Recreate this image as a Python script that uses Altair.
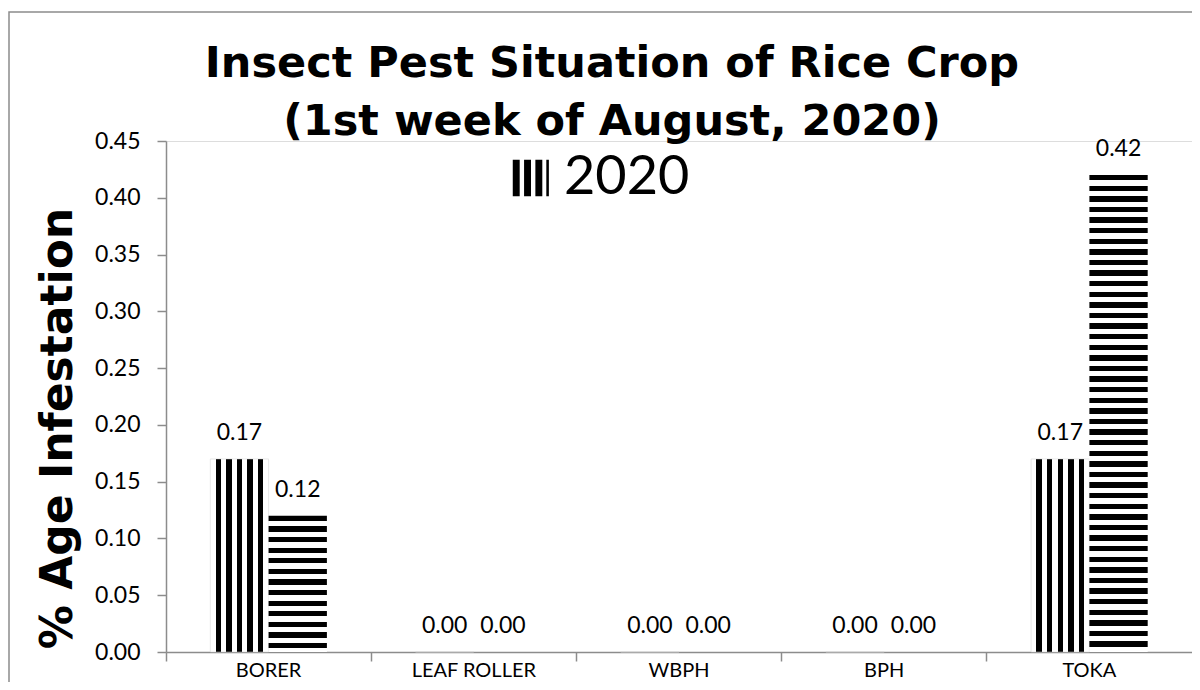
import altair as alt
import pandas as pd

categories = ["BORER", "LEAF ROLLER", "WBPH", "BPH", "TOKA"]
series = ["2020", "2019"]
values_2020 = [0.17, 0.00, 0.00, 0.00, 0.17]
values_2019 = [0.12, 0.00, 0.00, 0.00, 0.42]

rows = []
for c, v in zip(categories, values_2020):
    rows.append({"cat": c, "series": "2020", "value": v})
for c, v in zip(categories, values_2019):
    rows.append({"cat": c, "series": "2019", "value": v})
df = pd.DataFrame(rows)

# layout constants (style)
W, H = 1026, 511
YMAX = 0.45
OFF_PAD = 0.76
STRIPE = 10.6
bar_w = (W / len(categories)) / (2 + 2 * OFF_PAD)


def stripes(n_periods, vertical, start_black):
    stops = []
    n = max(n_periods, 1)
    k = 0
    pos = 0.0
    half = 1.0 / (2 * n)
    black = start_black
    while pos < 1.0:
        end = min(pos + half, 1.0)
        col = "#000000" if black else "#ffffff"
        stops.append({"offset": round(pos, 5), "color": col})
        stops.append({"offset": round(end, 5), "color": col})
        pos = end
        black = not black
        k += 1
        if k > 400:
            break
    g = {"gradient": "linear", "stops": stops}
    if vertical:
        g.update({"x1": 0, "y1": 0, "x2": 1, "y2": 0})
    else:
        g.update({"x1": 0, "y1": 0, "x2": 0, "y2": 1})
    return g


x_enc = alt.X("cat:N", sort=categories,
              scale=alt.Scale(paddingInner=0, paddingOuter=0),
              axis=alt.Axis(title=None, labelAngle=0, labelFont="Lato", labelFontSize=20,
                            labelColor="#000000", domainColor="#8c8c8c", tickColor="#8c8c8c",
                            tickSize=9, labelPadding=-1, bandPosition=0, grid=False,
                            domainWidth=1.5, tickWidth=1.5))
xo_enc = alt.XOffset("series:N", sort=series,
                     scale=alt.Scale(domain=series, paddingOuter=OFF_PAD, paddingInner=0))
y_enc = alt.Y("value:Q",
              scale=alt.Scale(domain=[0, YMAX], nice=False),
              axis=alt.Axis(title="% Age Infestation", values=[i * 0.05 for i in range(10)],
                            format=".2f", labelFont="Lato", labelFontSize=23,
                            labelColor="#000000", domainColor="#8c8c8c", tickColor="#8c8c8c",
                            tickSize=9, labelPadding=17, grid=False,
                            titleFont="DejaVu Sans", titleFontSize=44, titleFontWeight="bold",
                            titleColor="#000000", titlePadding=14, titleY=287,
                            domainWidth=1.5, tickWidth=1.5))

base = alt.Chart(df)

layers = []
layers.append(
    base.transform_filter(alt.datum.series == "2020")
    .mark_bar(fill=stripes(bar_w / STRIPE, True, False), stroke="#d0d0d0", strokeWidth=0.5)
    .encode(x=x_enc, xOffset=xo_enc, y=y_enc)
)
for c, v in zip(categories, values_2019):
    if v > 0:
        h = v / YMAX * H
        layers.append(
            base.transform_filter((alt.datum.series == "2019") & (alt.datum.cat == c))
            .mark_bar(fill=stripes(h / STRIPE, False, True))
            .encode(x=x_enc, xOffset=xo_enc, y=y_enc)
        )

labels = base.mark_text(font="Lato", fontSize=23, baseline="bottom", dy=-14, color="#000000").encode(
    x=x_enc, xOffset=xo_enc, y=y_enc, text=alt.Text("value:Q", format=".2f")
)
layers.append(labels)

legend_path = ("M-1,-1H-0.62V1H-1Z M-0.38,-1H0V1H-0.38Z M0.24,-1H0.62V1H0.24Z "
               "M0.84,-1H0.98V1H0.84Z")
legend_layer = base.mark_point(opacity=0, filled=True, color="#000000").encode(
    x=x_enc, xOffset=xo_enc, y=y_enc,
    shape=alt.Shape("series:N",
                    scale=alt.Scale(domain=series, range=[legend_path, "square"]),
                    legend=alt.Legend(title=None, values=["2020"], orient="none",
                                      legendX=338, legendY=10, symbolSize=1330,
                                      symbolFillColor="#000000", symbolStrokeColor="#000000",
                                      symbolStrokeWidth=0, symbolOpacity=1,
                                      labelFont="Lato", labelFontSize=54, labelColor="#000000",
                                      labelOffset=6, padding=0))
)
layers.append(legend_layer)

frame = alt.Chart(pd.DataFrame({"k": [0]})).mark_rect(
    fill=None, stroke="#8c8c8c", strokeWidth=1.5
).encode(x=alt.value(-157), x2=alt.value(W + 40), y=alt.value(-129), y2=alt.value(H + 60))
layers.append(frame)

chart = alt.layer(*layers).properties(
    width=W, height=H,
    title=alt.TitleParams(
        text=["Insect Pest Situation of Rice Crop", "(1st week of August, 2020)"],
        font="DejaVu Sans", fontSize=43, fontWeight="bold", color="#000000",
        anchor="middle", dx=-67, dy=119, offset=-14, lineHeight=58,
    ),
    autosize=alt.AutoSizeParams(type="none"),
    padding={"left": 158, "top": 133, "right": 0, "bottom": 30},
).configure_view(stroke=None).configure(background="#ffffff")

chart.save("out.html", embed_options={"renderer": "svg", "actions": False})
